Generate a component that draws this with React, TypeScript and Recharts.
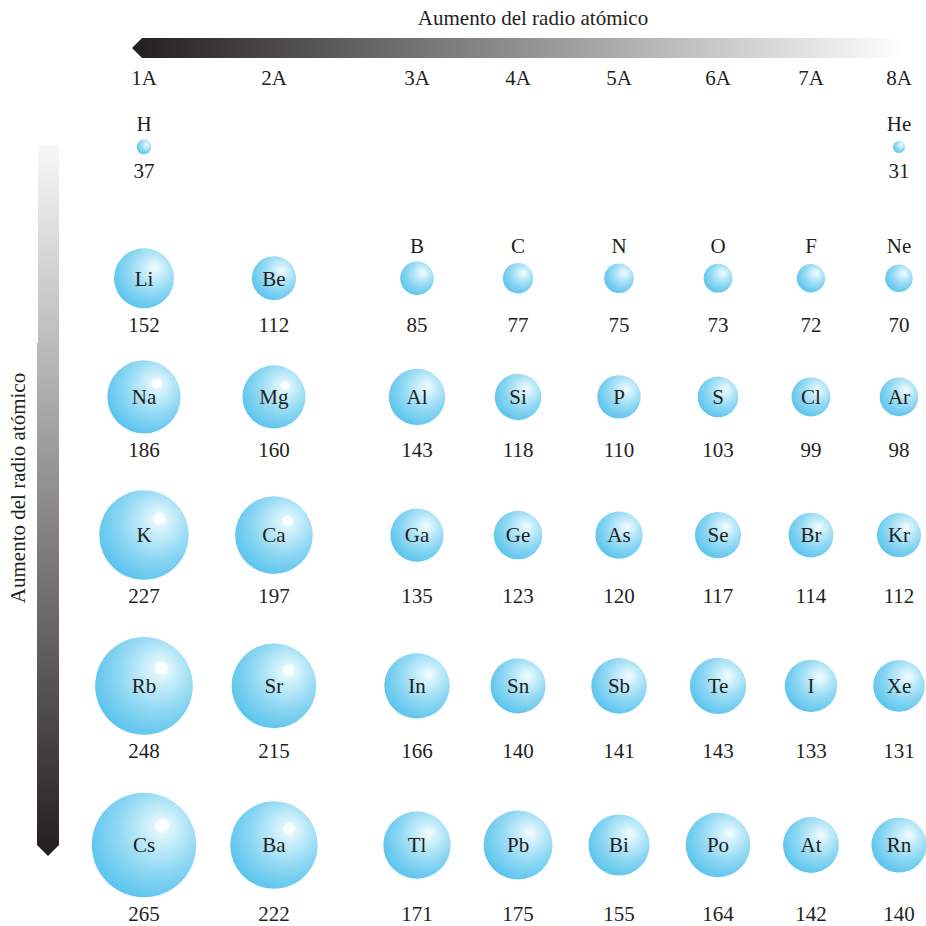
import React from "react";
import { ScatterChart, Scatter, XAxis, YAxis } from "recharts";

// group labels along the top
const GROUPS = ["1A", "2A", "3A", "4A", "5A", "6A", "7A", "8A"];

// elements per period (symbol, atomic radius in pm, group index)
const P1_SYMBOLS = ["H", "He"];
const P1_RADII = [37, 31];
const P1_GROUPS = [0, 7];

const P2_SYMBOLS = ["Li", "Be", "B", "C", "N", "O", "F", "Ne"];
const P2_RADII = [152, 112, 85, 77, 75, 73, 72, 70];

const P3_SYMBOLS = ["Na", "Mg", "Al", "Si", "P", "S", "Cl", "Ar"];
const P3_RADII = [186, 160, 143, 118, 110, 103, 99, 98];

const P4_SYMBOLS = ["K", "Ca", "Ga", "Ge", "As", "Se", "Br", "Kr"];
const P4_RADII = [227, 197, 135, 123, 120, 117, 114, 112];

const P5_SYMBOLS = ["Rb", "Sr", "In", "Sn", "Sb", "Te", "I", "Xe"];
const P5_RADII = [248, 215, 166, 140, 141, 143, 133, 131];

const P6_SYMBOLS = ["Cs", "Ba", "Tl", "Pb", "Bi", "Po", "At", "Rn"];
const P6_RADII = [265, 222, 171, 175, 155, 164, 142, 140];

const FULL_ROW = [0, 1, 2, 3, 4, 5, 6, 7];
const TITLE = "Aumento del radio atómico";

// layout: column / row centres in axis units (columns spread by sphere size)
const COL_X = [0, 1.205, 2.531, 3.468, 4.404, 5.322, 6.184, 7];
const ROW_Y = [1, 1.94, 2.79, 3.78, 4.86, 6];
const PX_PER_PM = 0.197;
const SMALL = 90; // below this the symbol goes above the sphere

const INK = "#231f20";
const FONT = "'Liberation Serif', 'Times New Roman', serif";

const periods = [
  { symbols: P1_SYMBOLS, radii: P1_RADII, groups: P1_GROUPS },
  { symbols: P2_SYMBOLS, radii: P2_RADII, groups: FULL_ROW },
  { symbols: P3_SYMBOLS, radii: P3_RADII, groups: FULL_ROW },
  { symbols: P4_SYMBOLS, radii: P4_RADII, groups: FULL_ROW },
  { symbols: P5_SYMBOLS, radii: P5_RADII, groups: FULL_ROW },
  { symbols: P6_SYMBOLS, radii: P6_RADII, groups: FULL_ROW },
];

const atoms = periods.flatMap((p, row) => {
  const rowMax = Math.max(...p.radii);
  const smallMax = Math.max(0, ...p.radii.filter((r) => r < SMALL));
  return p.symbols.map((s, i) => ({
    x: COL_X[p.groups[i]],
    y: ROW_Y[row],
    group: p.groups[i],
    symbol: s,
    radius: p.radii[i],
    rowMax,
    smallMax,
  }));
});

const txt = { fontFamily: FONT, fontSize: 21, fill: INK, textAnchor: "middle" as const };

function Atom(props: any) {
  const { cx, cy, payload } = props;
  if (cx == null || cy == null) return null;
  const r = payload.radius * PX_PER_PM;
  const inside = payload.radius >= SMALL;
  const glint = payload.group < 2 && payload.radius >= 160;
  return (
    <g>
      <circle cx={cx} cy={cy} r={r} fill="url(#sphere)" />
      {glint && <circle cx={cx + 0.35 * r} cy={cy - 0.37 * r} r={0.16 * r} fill="url(#glint)" />}
      {inside ? (
        <text {...txt} x={cx} y={cy} dy="0.35em">{payload.symbol}</text>
      ) : (
        <text {...txt} x={cx} y={cy - (payload.smallMax * PX_PER_PM + 16)} dy="0.35em">
          {payload.symbol}
        </text>
      )}
      <text {...txt} x={cx} y={cy + payload.rowMax * PX_PER_PM + 16} dy="0.35em">
        {payload.radius}
      </text>
    </g>
  );
}

export default function App() {
  return (
    <div style={{ position: "absolute", left: 0, top: 0, width: 926, height: 926, background: "#fff" }}>
      <svg width={0} height={0} style={{ position: "absolute" }}>
        <defs>
          <radialGradient id="sphere" cx="0.62" cy="0.38" r="0.68" fx="0.68" fy="0.32">
            <stop offset="0" stopColor="#f4fcfe" />
            <stop offset="0.25" stopColor="#c6edfa" />
            <stop offset="0.6" stopColor="#8dd7f3" />
            <stop offset="1" stopColor="#58c3ed" />
          </radialGradient>
          <radialGradient id="glint">
            <stop offset="0" stopColor="#ffffff" stopOpacity={0.5} />
            <stop offset="0.6" stopColor="#ffffff" stopOpacity={0.95} />
            <stop offset="1" stopColor="#ffffff" stopOpacity={0} />
          </radialGradient>
          <linearGradient id="hbar" x1="132" y1="0" x2="898" y2="0" gradientUnits="userSpaceOnUse">
            <stop offset="0" stopColor={INK} />
            <stop offset="1" stopColor="#fdfdfd" />
          </linearGradient>
          <linearGradient id="vbar" x1="0" y1="145" x2="0" y2="856" gradientUnits="userSpaceOnUse">
            <stop offset="0" stopColor="#f8f8f8" />
            <stop offset="1" stopColor={INK} />
          </linearGradient>
        </defs>
      </svg>
      <ScatterChart width={926} height={926} margin={{ top: 0, right: 27, bottom: 81, left: 144 }}>
        <XAxis
          type="number"
          dataKey="x"
          orientation="top"
          height={147}
          domain={[0, 7]}
          ticks={COL_X}
          tickFormatter={(v: number) => GROUPS[COL_X.indexOf(v)]}
          tickLine={false}
          axisLine={false}
          tickMargin={56}
          tick={{ fill: INK, fontSize: 21, fontFamily: FONT }}
          interval={0}
        />
        <YAxis type="number" dataKey="y" domain={[1, 6]} reversed hide width={0} />
        <Scatter data={atoms} shape={Atom} isAnimationActive={false} />
      </ScatterChart>
      <svg width={926} height={926} style={{ position: "absolute", left: 0, top: 0, pointerEvents: "none" }}>
        <text {...txt} x={533} y={25}>{TITLE}</text>
        <polygon points="132,48 142,38 898,38 898,58 142,58" fill="url(#hbar)" />
        <polygon points="38,145 59,145 59,845 48,856 37,845 37,343 38,343" fill="url(#vbar)" />
        <text {...txt} x={25} y={488} transform="rotate(-90 25 488)">{TITLE}</text>
      </svg>
    </div>
  );
}
